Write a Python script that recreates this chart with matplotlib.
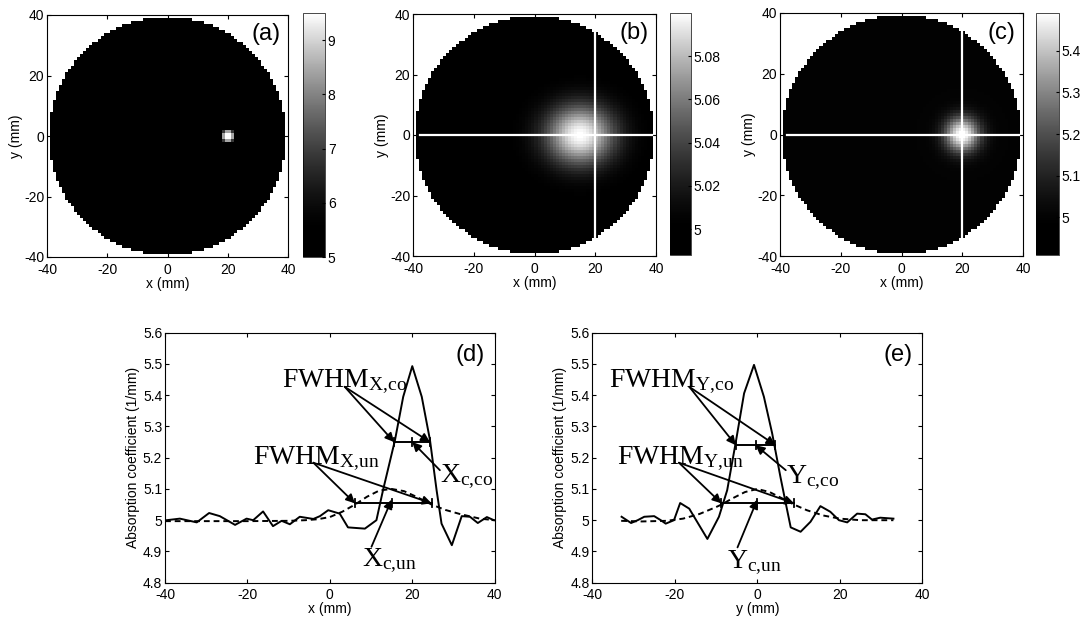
import numpy as np
import matplotlib
matplotlib.use("Agg")
import matplotlib.pyplot as plt
from matplotlib.colors import ListedColormap
from matplotlib.ticker import FuncFormatter

plt.rcParams['font.family'] = ['Liberation Sans', 'DejaVu Sans']
plt.rcParams['mathtext.fontset'] = 'custom'
plt.rcParams['mathtext.rm'] = 'Liberation Serif'
plt.rcParams['mathtext.it'] = 'Liberation Serif'
plt.rcParams['axes.unicode_minus'] = False

# ---------------- data ----------------
axis_ticks = [-40, -20, 0, 20, 40]
profile_yticks = [4.8, 4.9, 5.0, 5.1, 5.2, 5.3, 5.4, 5.5, 5.6]

# image parameters (mm / absorption values)
disk_radius = 39.3
background_mua = 5.0
a_incl_center = (20.0, 0.0)
a_incl_radius = 2.4
a_incl_peak = 9.5
a_clim = (5.0, 9.5)
a_cticks = [5, 6, 7, 8, 9]

b_blob_center = (15.0, 0.0)
b_blob_sigma = (8.5, 7.5)
b_blob_amp = 0.10
b_clim = (4.988, 5.10)
b_cticks = [5.0, 5.02, 5.04, 5.06, 5.08]

c_blob_center = (20.0, 0.0)
c_blob_sigma = (4.2, 4.2)
c_blob_amp = 0.50
c_clim = (4.91, 5.49)
c_cticks = [5.0, 5.1, 5.2, 5.3, 5.4]

# profile lines drawn over (b) and (c)
hline_x = [-37.7, 38.6]
hline_y = [0.0, 0.0]
vline_x = [20.0, 20.0]
vline_y = [-33.6, 34.0]

# (d) x-profile
d_x_co = [-39.6, -36.4, -32.3, -29.3, -26.7, -23.0, -20.2, -18.6, -16.2, -13.8, -11.7, -9.7,
          -7.3, -4.0, -2.4, -0.4, 2.4, 4.4, 8.5, 11.3, 12.9, 15.8, 17.8, 20.0, 22.3, 24.3,
          25.9, 27.1, 29.6, 32.0, 34.0, 35.9, 38.1, 39.8]
d_y_co = [5.0, 5.005, 4.993, 5.023, 5.013, 4.985, 5.005, 5.0, 5.028, 4.981, 4.998, 4.987,
          5.011, 5.004, 5.013, 5.032, 5.021, 4.977, 4.973, 5.0, 5.096, 5.256, 5.395, 5.493, 5.395, 5.256,
          5.096, 4.989, 4.92, 5.013, 5.011, 4.991, 5.01, 5.0]
d_x_un = [-40, -30, -20, -10, -6, -3, 0, 3, 6.1, 9, 12, 15, 18, 21, 24.7, 28, 31.5, 36.4, 40]
d_y_un = [4.997, 4.997, 4.997, 4.998, 5.0, 5.003, 5.01, 5.027, 5.05, 5.075, 5.095, 5.1, 5.093,
          5.075, 5.05, 5.033, 5.02, 5.005, 5.0]
d_fwhm_co = (15.6, 24.3, 5.25)   # left, right, level
d_center_co = 20.0
d_fwhm_un = (6.1, 24.7, 5.054)
d_center_un = 15.0

# (e) y-profile
e_x_co = [-32.9, -30.6, -29.0, -27.4, -25.0, -23.4, -22.2, -20.2, -18.7, -16.5, -12.1, -9.3,
          -7.3, -5.2, -3.2, -0.8, 1.6, 3.6, 5.6, 6.9, 8.1, 10.5, 12.9, 15.3, 17.7, 19.8, 21.8,
          24.2, 26.2, 27.8, 29.8, 33.0]
e_y_co = [5.011, 4.991, 5.0, 5.011, 5.013, 5.0, 4.989, 5.0, 5.055, 5.037, 4.94, 5.011,
          5.096, 5.251, 5.406, 5.497, 5.395, 5.278, 5.139, 5.054, 4.977, 4.963, 4.995, 5.045, 5.027, 5.0, 4.993,
          5.021, 5.019, 5.002, 5.008, 5.005]
e_x_un = [-33, -28, -22, -18, -14, -10, -8.7, -6, -3, 0, 3, 6, 8.9, 12, 16, 20, 25, 33]
e_y_un = [4.998, 4.996, 4.998, 5.005, 5.02, 5.042, 5.05, 5.07, 5.09, 5.1, 5.09, 5.07, 5.05,
          5.032, 5.015, 5.005, 5.0, 5.0]
e_fwhm_co = (-5.2, 4.4, 5.24)
e_center_co = -0.4
e_fwhm_un = (-8.7, 8.9, 5.054)
e_center_un = 0.0

# ---------------- helpers ----------------
_t = np.linspace(0, 1, 256)
_g = np.clip((_t - 0.12) / 0.88, 0, 1) ** 1.4
gray_g = ListedColormap(np.stack([_g] * 3, axis=1))
gray_g.set_bad('white')

cell = np.arange(-39.5, 40.0, 1.0)
XX, YY = np.meshgrid(cell, cell)
inside = np.hypot(XX, YY) <= disk_radius


def make_field(center, sigma, amp):
    f = background_mua + amp * np.exp(-((XX - center[0]) ** 2 / (2 * sigma[0] ** 2)
                                        + (YY - center[1]) ** 2 / (2 * sigma[1] ** 2)))
    return np.where(inside, f, np.nan)


r_a = np.hypot(XX - a_incl_center[0], YY - a_incl_center[1])
field_a = background_mua + (a_incl_peak - background_mua) * np.clip(1.2 - (r_a / a_incl_radius) ** 2, 0, 1)
field_a = np.where(inside, field_a, np.nan)
field_b = make_field(b_blob_center, b_blob_sigma, b_blob_amp)
field_c = make_field(c_blob_center, c_blob_sigma, c_blob_amp)

fmt_g = FuncFormatter(lambda v, p: ('%g' % round(v, 4)))

W, H = 1083, 619


def rect(l, t, r, b):
    return [l / W, 1 - b / H, (r - l) / W, (b - t) / H]


fig = plt.figure(figsize=(W / 100, H / 100), dpi=100)

img_specs = [
    (field_a, a_clim, a_cticks, '(a)', rect(47, 15, 288, 257), rect(303, 13, 325, 257), False),
    (field_b, b_clim, b_cticks, '(b)', rect(413, 14, 656, 256), rect(670, 13, 691, 255), True),
    (field_c, c_clim, c_cticks, '(c)', rect(780, 13, 1023, 256), rect(1036, 13, 1059, 255), True),
]

for field, clim, cticks, lab, pos, cpos, lines in img_specs:
    ax = fig.add_axes(pos)
    im = ax.imshow(field, extent=[-40, 40, -40, 40], origin='lower', cmap=gray_g,
                   vmin=clim[0], vmax=clim[1], interpolation='nearest', aspect='auto')
    if lines:
        ax.plot(hline_x, hline_y, color='white', lw=1.6)
        ax.plot(vline_x, vline_y, color='white', lw=1.6)
    ax.set_xlim(-40, 40)
    ax.set_ylim(-40, 40)
    ax.set_xticks(axis_ticks)
    ax.set_yticks(axis_ticks)
    ax.tick_params(direction='in', top=True, right=True, length=3, labelsize=10, pad=2)
    ax.tick_params(axis='x', pad=4)
    ax.set_xlabel('x (mm)', fontsize=10, labelpad=0)
    ax.set_ylabel('y (mm)', fontsize=10, labelpad=1)
    ax.text(0.97, 0.965, lab, transform=ax.transAxes, ha='right', va='top', fontsize=17)
    for s in ax.spines.values():
        s.set_linewidth(0.8)
    cax = fig.add_axes(cpos)
    cb = fig.colorbar(im, cax=cax, ticks=cticks, format=fmt_g)
    cb.outline.set_linewidth(0.5)
    cax.tick_params(direction='in', length=2, labelsize=10, pad=2)

arrow_kw = dict(arrowstyle='-|>', color='black', lw=1.3, mutation_scale=13, shrinkA=0, shrinkB=0)
lab_fs = 20


def profile_panel(pos, x_co, y_co, x_un, y_un, fwhm_co, c_co, fwhm_un, c_un, xlabel, letter, L, lab_pos):
    ax = fig.add_axes(pos)
    ax.plot(x_co, y_co, color='black', lw=1.4)
    ax.plot(x_un, y_un, color='black', lw=1.4, ls=(0, (3, 2)))
    tk = 0.013
    for (l, r, lev), c in ((fwhm_co, c_co), (fwhm_un, c_un)):
        ax.plot([l, r], [lev, lev], color='black', lw=1.4)
        for xx in (l, r, c):
            ax.plot([xx, xx], [lev - tk, lev + tk], color='black', lw=1.3)
    # labels and arrows
    (t1, o1), (t2, o2), (t3, o3), (t4, o4) = lab_pos
    ax.text(t1[0], t1[1], r'$\mathrm{FWHM}_{\mathrm{%s{,}co}}$' % L, fontsize=lab_fs, va='baseline')
    ax.annotate('', xy=(fwhm_co[0], fwhm_co[2]), xytext=o1, arrowprops=arrow_kw)
    ax.annotate('', xy=(fwhm_co[1], fwhm_co[2]), xytext=o1, arrowprops=arrow_kw)
    ax.text(t2[0], t2[1], r'$\mathrm{FWHM}_{\mathrm{%s{,}un}}$' % L, fontsize=lab_fs, va='baseline')
    ax.annotate('', xy=(fwhm_un[0], fwhm_un[2]), xytext=o2, arrowprops=arrow_kw)
    ax.annotate('', xy=(fwhm_un[1], fwhm_un[2]), xytext=o2, arrowprops=arrow_kw)
    ax.text(t3[0], t3[1], r'$\mathrm{%s}_{\mathrm{c{,}co}}$' % L, fontsize=lab_fs, va='baseline')
    ax.annotate('', xy=(c_co, fwhm_co[2]), xytext=o3, arrowprops=arrow_kw)
    ax.text(t4[0], t4[1], r'$\mathrm{%s}_{\mathrm{c{,}un}}$' % L, fontsize=lab_fs, va='baseline')
    ax.annotate('', xy=(c_un, fwhm_un[2] + 0.012), xytext=o4, arrowprops=arrow_kw)

    ax.set_xlim(-40, 40)
    ax.set_ylim(4.8, 5.6)
    ax.set_xticks(axis_ticks)
    ax.set_yticks(profile_yticks)
    ax.yaxis.set_major_formatter(fmt_g)
    ax.tick_params(direction='in', top=True, right=True, length=3, labelsize=10, pad=2)
    ax.tick_params(axis='x', pad=4)
    ax.set_xlabel(xlabel, fontsize=10, labelpad=0)
    ax.set_ylabel('Absorption coefficient (1/mm)', fontsize=10, labelpad=2)
    ax.text(0.97, 0.955, letter, transform=ax.transAxes, ha='right', va='top', fontsize=17)
    for s in ax.spines.values():
        s.set_linewidth(0.8)


profile_panel(rect(165, 332.7, 494.7, 582.7), d_x_co, d_y_co, d_x_un, d_y_un,
              d_fwhm_co, d_center_co, d_fwhm_un, d_center_un, 'x (mm)', '(d)', 'X',
              [((-11.7, 5.425), (3.6, 5.427)),
               ((-18.6, 5.18), (-4.0, 5.184)),
               ((26.7, 5.123), (26.7, 5.16)),
               ((7.7, 4.853), (10.1, 4.915))])

profile_panel(rect(592.3, 332.7, 922.3, 582.7), e_x_co, e_y_co, e_x_un, e_y_un,
              e_fwhm_co, e_center_co, e_fwhm_un, e_center_un, 'y (mm)', '(e)', 'Y',
              [((-35.9, 5.427), (-16.5, 5.427)),
               ((-33.9, 5.18), (-19.0, 5.184)),
               ((6.9, 5.118), (6.9, 5.16)),
               ((-7.3, 4.846), (-4.8, 4.913))])

fig.savefig('out.png', dpi=100)
